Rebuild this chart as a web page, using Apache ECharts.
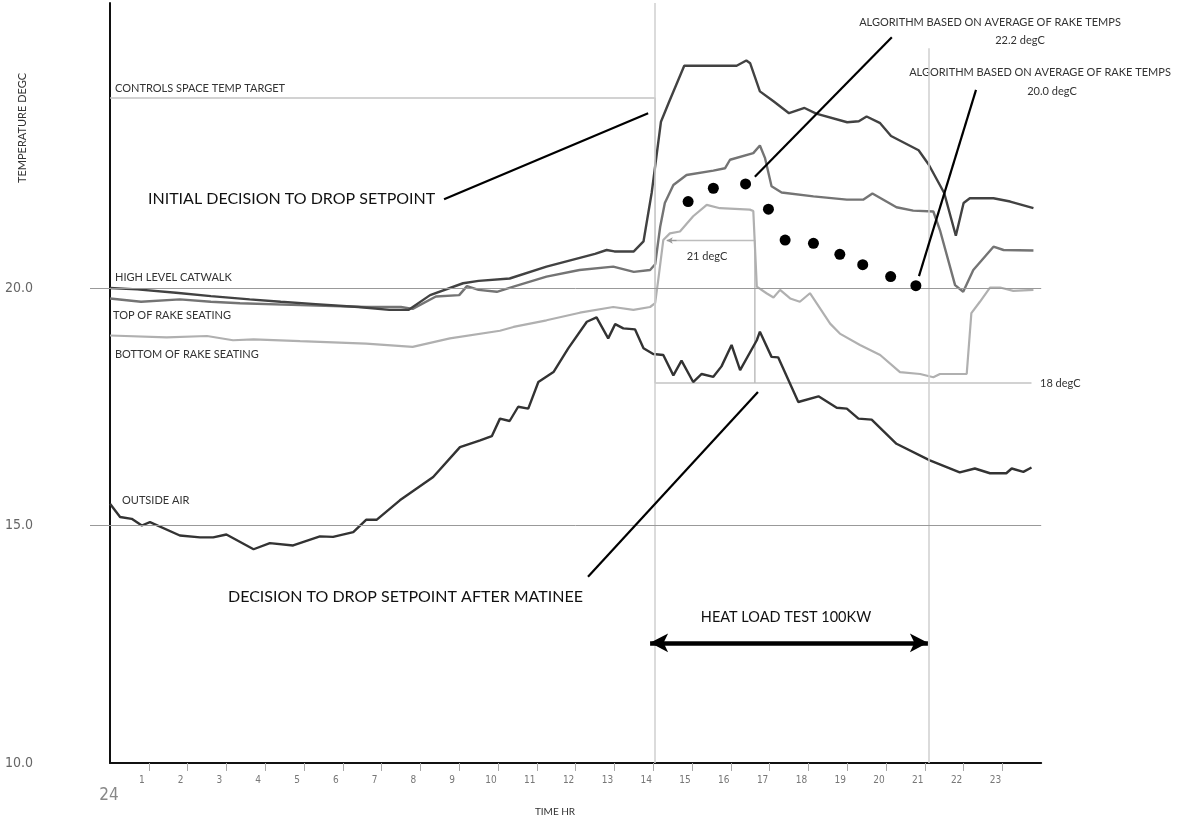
<!DOCTYPE html>
<html>
<head>
<meta charset="utf-8">
<script src="https://cdn.jsdelivr.net/npm/echarts@6/dist/echarts.min.js"></script>
<style>
    html, body {margin: 0; padding: 0; background: #fff;}
    #main {width: 1186px; height: 823px;}
</style>
</head>
<body>
<div id="main"></div>
<script>
// hours of the day -> temperature degC
const catwalk = [[0,20.0],[0.7,19.97],[1.7,19.9],[2.6,19.83],[3.6,19.76],[4.4,19.71],[5.3,19.66],[6.4,19.6],[7.2,19.54],[7.7,19.54],[8.25,19.85],[9.1,20.1],[9.5,20.15],[10.3,20.2],[11.25,20.45],[12.5,20.72],[12.8,20.8],[13.0,20.77],[13.5,20.77],[13.75,20.98],[13.96,22.0],[14.2,23.5],[14.4,23.9],[14.8,24.68],[16.15,24.68],[16.4,24.79],[16.5,24.73],[16.75,24.14],[17.1,23.93],[17.5,23.68],[17.9,23.79],[18.2,23.67],[19.0,23.49],[19.3,23.51],[19.5,23.61],[19.85,23.47],[20.13,23.2],[20.84,22.9],[21.1,22.6],[21.3,22.3],[21.5,22.0],[21.8,21.1],[22.0,21.79],[22.16,21.89],[22.77,21.89],[23.2,21.82],[23.8,21.68]]
const topRake = [[0,19.78],[0.8,19.71],[1.8,19.76],[2.6,19.71],[3.35,19.68],[4.9,19.64],[6.6,19.6],[7.5,19.6],[7.8,19.56],[8.4,19.82],[9.0,19.85],[9.2,20.04],[9.5,19.96],[9.97,19.92],[10.4,20.03],[11.25,20.24],[12.1,20.38],[12.97,20.45],[13.5,20.34],[13.92,20.38],[14.05,20.5],[14.18,21.29],[14.3,21.79],[14.52,22.17],[14.86,22.38],[15.55,22.47],[15.85,22.52],[15.98,22.7],[16.58,22.84],[16.75,23.0],[16.88,22.74],[17.05,22.14],[17.31,22.01],[18.13,21.93],[18.99,21.86],[19.41,21.86],[19.65,21.99],[20.27,21.7],[20.7,21.63],[21.22,21.61],[21.39,21.22],[21.78,20.06],[21.99,19.92],[22.25,20.38],[22.77,20.87],[23.03,20.8],[23.8,20.79]]
const bottomRake = [[0,19.0],[1.46,18.96],[2.5,18.99],[3.17,18.9],[3.7,18.92],[4.9,18.88],[6.6,18.83],[7.8,18.76],[8.76,18.94],[10.05,19.1],[10.4,19.18],[11.25,19.32],[12.11,19.48],[12.97,19.6],[13.49,19.54],[13.92,19.6],[14.05,19.68],[14.13,20.17],[14.26,21.01],[14.43,21.15],[14.69,21.19],[15.03,21.51],[15.38,21.75],[15.72,21.68],[16.49,21.65],[16.58,21.62],[16.67,20.03],[16.92,19.89],[17.1,19.8],[17.27,19.96],[17.53,19.78],[17.78,19.71],[18.04,19.89],[18.56,19.25],[18.81,19.04],[19.33,18.8],[19.85,18.59],[20.36,18.23],[20.88,18.19],[21.22,18.12],[21.39,18.19],[22.08,18.19],[22.2,19.47],[22.42,19.71],[22.68,20.01],[22.94,20.01],[23.28,19.94],[23.8,19.96]]
const outsideAir = [[0,15.46],[0.26,15.18],[0.56,15.14],[0.82,15.0],[1.03,15.07],[1.8,14.79],[2.32,14.75],[2.66,14.75],[3.0,14.81],[3.7,14.5],[4.12,14.63],[4.72,14.58],[5.41,14.77],[5.75,14.76],[6.27,14.86],[6.6,15.12],[6.87,15.12],[7.47,15.53],[8.33,16.02],[9.02,16.65],[9.54,16.79],[9.84,16.88],[10.05,17.25],[10.3,17.2],[10.52,17.5],[10.78,17.46],[11.04,18.02],[11.43,18.23],[11.81,18.73],[12.29,19.29],[12.54,19.38],[12.84,18.94],[13.02,19.24],[13.23,19.15],[13.53,19.13],[13.75,18.73],[14.0,18.61],[14.26,18.59],[14.52,18.16],[14.73,18.47],[15.03,18.02],[15.25,18.19],[15.55,18.13],[15.76,18.35],[16.02,18.8],[16.24,18.27],[16.67,18.9],[16.75,19.08],[17.05,18.55],[17.22,18.54],[17.74,17.6],[18.26,17.72],[18.73,17.48],[18.99,17.46],[19.29,17.25],[19.63,17.23],[20.27,16.72],[21.13,16.37],[21.9,16.12],[22.29,16.2],[22.68,16.1],[23.1,16.1],[23.24,16.2],[23.54,16.13],[23.75,16.22]]
// controls target setpoint
const target = [[0,24.0],[14.05,24.0],[14.05,18.0],[23.75,18.0]]
const target21 = [[14.35,21.0],[16.62,21.0],[16.62,18.0]]
// algorithm dots (average of rake temps)
const avgDots = [[14.9,21.82],[15.55,22.1],[16.38,22.19],[16.97,21.66],[17.4,21.01],[18.13,20.94],[18.81,20.71],[19.4,20.49],[20.12,20.24],[20.77,20.05]]
const hourTicks = [0,1,2,3,4,5,6,7,8,9,10,11,12,13,14,15,16,17,18,19,20,21,22,23]
const tempTicks = [10,15,20]
const refLines = [15,20]
const markHours = [14.05,21.1]

const labelFont = 'Lato'
const chart = echarts.init(document.getElementById('main'))

const txt = (text, x, y, size, opts) => Object.assign({
    type: 'text', x: x, y: y, silent: true,
    style: Object.assign({text: text, fill: '#333', font: size + 'px ' + labelFont, align: 'left', verticalAlign: 'middle'}, (opts || {}).style)
}, opts ? {rotation: opts.rotation || 0} : {})

const dataLine = (name, data, color, width) => ({
    name: name, type: 'line', data: data, showSymbol: false, symbol: 'none',
    lineStyle: {color: color, width: width}, z: 3, animation: false
})

let option = {
    backgroundColor: '#fff',
    animation: false,
    grid: {left: 110, right: 144.8, top: 3, bottom: 60},
    xAxis: {
        type: 'value', min: 0, max: 24,
        axisLine: {show: true, lineStyle: {color: '#111', width: 2}},
        axisTick: {show: true, customValues: hourTicks.slice(1), length: 8, lineStyle: {color: '#aaa'}},
        axisLabel: {
            customValues: hourTicks, margin: 12, color: '#777',
            fontFamily: 'DejaVu Sans Condensed', fontSize: 10, padding: [0, 14, 0, 0],
            formatter: v => v === 0 ? '{big|24}' : String(v),
            rich: {big: {fontSize: 17, color: '#888', fontFamily: 'DejaVu Sans Condensed', padding: [12, 0, 0, 12]}}
        },
        splitLine: {show: false}
    },
    yAxis: {
        type: 'value', min: 10, max: 26,
        axisLine: {show: true, lineStyle: {color: '#111', width: 2}},
        axisTick: {show: true, customValues: refLines, length: 20, lineStyle: {color: '#999'}},
        axisLabel: {
            customValues: tempTicks, margin: 105, align: 'left', color: '#666',
            fontFamily: 'DejaVu Sans Condensed', fontSize: 14,
            formatter: v => v.toFixed(1)
        },
        splitLine: {show: false}
    },
    series: [
        {
            name: 'target', type: 'line', data: target, showSymbol: false, symbol: 'none',
            lineStyle: {color: '#c4c4c4', width: 1.5}, z: 2,
            markLine: {
                silent: true, symbol: 'none', animation: false,
                label: {show: false},
                data: [
                    [{coord: [markHours[0], 10], lineStyle: {color: '#cfcfcf', width: 1.5, type: 'solid'}}, {coord: [markHours[0], 26]}],
                    [{coord: [markHours[1], 10], lineStyle: {color: '#cfcfcf', width: 1.5, type: 'solid'}}, {coord: [markHours[1], 25.05]}],
                    {yAxis: refLines[0], lineStyle: {color: '#999', width: 1, type: 'solid'}},
                    {yAxis: refLines[1], lineStyle: {color: '#999', width: 1, type: 'solid'}}
                ]
            }
        },
        {
            name: '21 degC', type: 'line', data: target21, showSymbol: false, symbol: 'none',
            lineStyle: {color: '#bdbdbd', width: 1.5}, z: 2
        },
        dataLine('BOTTOM OF RAKE SEATING', bottomRake, '#b0b0b0', 2.2),
        dataLine('TOP OF RAKE SEATING', topRake, '#747474', 2.4),
        dataLine('HIGH LEVEL CATWALK', catwalk, '#424242', 2.4),
        dataLine('OUTSIDE AIR', outsideAir, '#333', 2.4),
        {
            name: 'algorithm', type: 'scatter', data: avgDots, symbolSize: 11,
            itemStyle: {color: '#000', opacity: 1}, z: 5
        },
        {
            // annotation pointers, the heat load test span, axis stubs
            name: 'notes', type: 'line', data: [], z: 6,
            markLine: {
                silent: true, animation: false, label: {show: false},
                lineStyle: {color: '#000', width: 2.2, type: 'solid'},
                symbol: 'none',
                data: [
                    [{coord: [8.61, 21.87]}, {coord: [13.87, 23.68]}],
                    [{coord: [12.32, 13.92]}, {coord: [16.70, 17.81]}],
                    [{coord: [20.15, 25.28]}, {coord: [16.62, 22.34]}],
                    [{coord: [22.32, 24.17]}, {coord: [20.85, 20.25]}],
                    [{coord: [13.92, 12.53], symbol: 'arrow', symbolSize: [14, 18], lineStyle: {width: 4.5}},
                     {coord: [21.08, 12.53], symbol: 'arrow', symbolSize: [14, 18]}],
                    [{coord: [14.35, 21.0], symbol: 'arrow', symbolSize: [5, 6], lineStyle: {color: '#999', width: 1.2}},
                     {coord: [14.6, 21.0], symbol: 'none'}],
                    [{coord: [-0.82, 10], lineStyle: {color: '#111', width: 2}}, {coord: [0, 10]}],
                    [{coord: [0, 10], lineStyle: {color: '#111', width: 2}}, {coord: [0, 9.75]}]
                ]
            }
        }
    ],
    graphic: [
        txt('CONTROLS SPACE TEMP TARGET', 115, 88, 11),
        txt('HIGH LEVEL CATWALK', 115, 277, 11),
        txt('TOP OF RAKE SEATING', 113, 315, 11),
        txt('BOTTOM OF RAKE SEATING', 115, 354, 11),
        txt('OUTSIDE AIR', 122, 500, 11),
        txt('INITIAL DECISION TO DROP SETPOINT', 148, 199, 16, {style: {fill: '#111'}}),
        txt('DECISION TO DROP SETPOINT AFTER MATINEE', 228, 597, 16, {style: {fill: '#111'}}),
        txt('HEAT LOAD TEST 100KW', 786, 617, 14.5, {style: {fill: '#111', align: 'center'}}),
        txt('ALGORITHM BASED ON AVERAGE OF RAKE TEMPS', 990, 22, 11, {style: {align: 'center'}}),
        txt('22.2 degC', 1020, 40, 11, {style: {align: 'center'}}),
        txt('ALGORITHM BASED ON AVERAGE OF RAKE TEMPS', 1040, 72, 11, {style: {align: 'center'}}),
        txt('20.0 degC', 1052, 91, 11, {style: {align: 'center'}}),
        txt('21 degC', 707, 256, 11, {style: {align: 'center'}}),
        txt('18 degC', 1040, 383, 11),
        txt('TEMPERATURE DEGC', 22, 128, 11, {rotation: Math.PI / 2, style: {align: 'center'}}),
        txt('TIME HR', 555, 812, 10, {style: {align: 'center'}})
    ]
}
chart.setOption(option)
</script>
</body>
</html>
